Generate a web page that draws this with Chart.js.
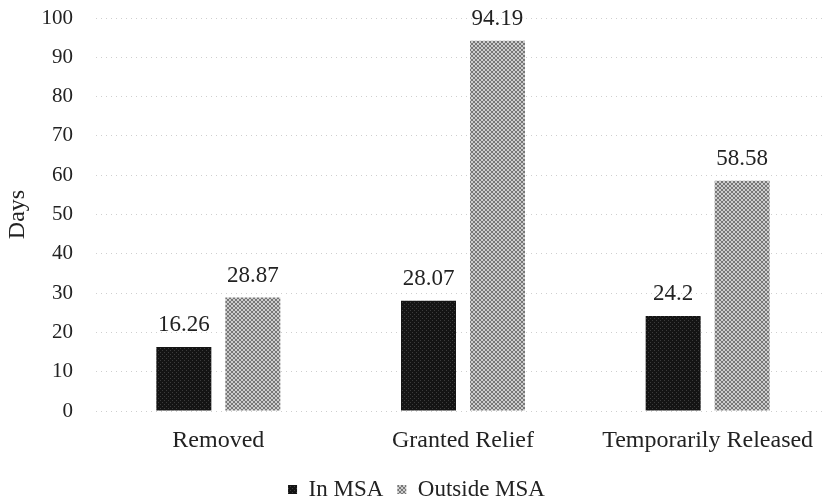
<!DOCTYPE html>
<html>
<head>
<meta charset="utf-8">
<script src="https://cdn.jsdelivr.net/npm/chart.js@4/dist/chart.umd.min.js"></script>
<style>
  html, body { margin: 0; padding: 0; background: #fff; overflow: hidden; }
  #wrap { width: 831px; height: 502px; position: relative; }
</style>
</head>
<body>
<div id="wrap"><canvas id="c" width="831" height="502"></canvas></div>
<script>
const categories = ['Removed', 'Granted Relief', 'Temporarily Released'];
const inMsa = [16.26, 28.07, 24.2];
const outsideMsa = [28.87, 94.19, 58.58];
const seriesNames = ['In MSA', 'Outside MSA'];
const yTicks = [0, 10, 20, 30, 40, 50, 60, 70, 80, 90, 100];

const SERIF = '"Liberation Serif", "DejaVu Serif", serif';
const INK = '#222';

// Dense dark texture for the first series
function darkPattern() {
  const p = document.createElement('canvas');
  p.width = 4; p.height = 4;
  const g = p.getContext('2d');
  g.fillStyle = '#141414';
  g.fillRect(0, 0, 4, 4);
  g.fillStyle = '#3c3c3c';
  g.fillRect(0, 0, 1, 1);
  g.fillRect(2, 2, 1, 1);
  return g.createPattern(p, 'repeat');
}

// Grey cross-hatch for the second series
function hatchPattern() {
  const p = document.createElement('canvas');
  p.width = 4; p.height = 4;
  const g = p.getContext('2d');
  g.fillStyle = '#cdcdcd';
  g.fillRect(0, 0, 4, 4);
  g.fillStyle = '#777';
  for (let i = 0; i < 4; i++) {
    g.fillRect(i, i, 1, 1);
    g.fillRect(3 - i, i, 1, 1);
  }
  return g.createPattern(p, 'repeat');
}

// Writes each bar's value above it
const valueLabels = {
  id: 'valueLabels',
  afterDatasetsDraw(chart) {
    const ctx = chart.ctx;
    ctx.save();
    ctx.font = '23px ' + SERIF;
    ctx.fillStyle = INK;
    ctx.textAlign = 'center';
    ctx.textBaseline = 'middle';
    chart.data.datasets.forEach((ds, di) => {
      chart.getDatasetMeta(di).data.forEach((bar, i) => {
        ctx.fillText(String(ds.data[i]), bar.x, bar.y - 22);
      });
    });
    ctx.restore();
  }
};

new Chart(document.getElementById('c'), {
  type: 'bar',
  data: {
    labels: categories,
    datasets: [
      { label: seriesNames[0], data: inMsa, backgroundColor: darkPattern(), borderWidth: 0 },
      { label: seriesNames[1], data: outsideMsa, backgroundColor: hatchPattern(), borderWidth: 0 }
    ]
  },
  options: {
    responsive: false,
    animation: false,
    devicePixelRatio: 1,
    categoryPercentage: 0.564,
    barPercentage: 0.797,
    layout: { padding: { top: 18, right: 1, bottom: -9, left: 3 } },
    plugins: {
      legend: {
        position: 'bottom',
        labels: {
          boxWidth: 9, boxHeight: 9, padding: 14,
          color: INK,
          font: { family: SERIF, size: 23 }
        }
      },
      tooltip: { enabled: false }
    },
    scales: {
      x: {
        grid: { display: false },
        border: { display: false },
        ticks: { color: INK, font: { family: SERIF, size: 24 }, padding: 7 },
        afterFit(scale) { scale.height = 53; }
      },
      y: {
        min: 0, max: 100,
        afterBuildTicks(axis) { axis.ticks = yTicks.map(v => ({ value: v })); },
        afterFit(scale) { scale.width = 93; scale.paddingTop = 0; scale.paddingBottom = 0; },
        grid: { color: '#cfcfcf', lineWidth: 1, drawTicks: false },
        border: { display: false, dash: [1, 4] },
        ticks: { color: INK, font: { family: SERIF, size: 21 }, padding: 23 },
        title: { display: true, text: 'Days', color: INK, font: { family: SERIF, size: 24 }, padding: { top: 0, bottom: 9 } }
      }
    }
  },
  plugins: [valueLabels]
});
</script>
</body>
</html>
